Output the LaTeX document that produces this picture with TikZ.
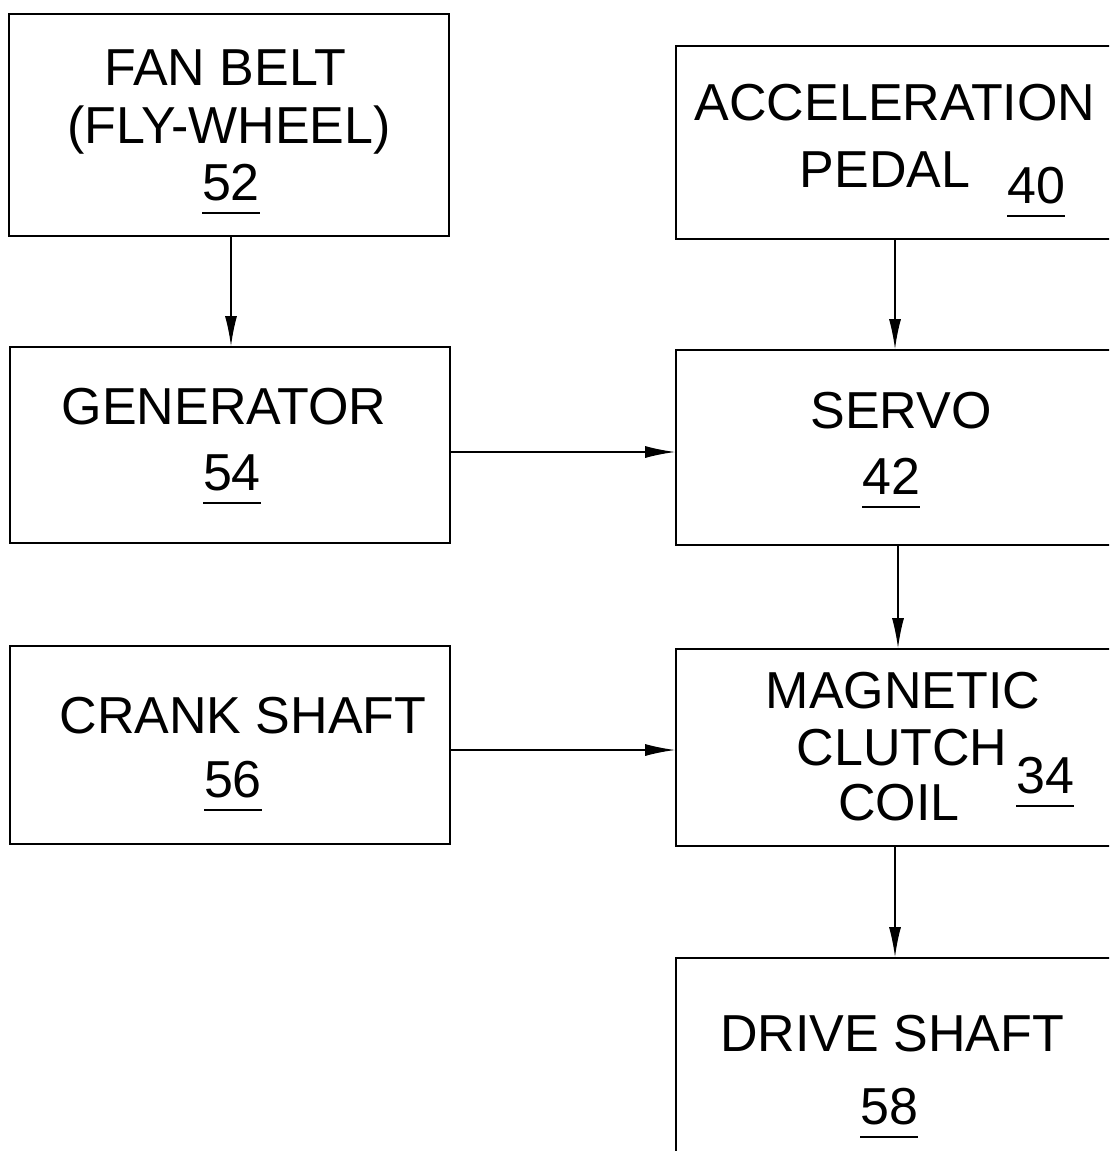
\documentclass[tikz,border=0pt]{standalone}
\usepackage{fontspec}
\setmainfont{Liberation Sans}
\usetikzlibrary{arrows.meta,positioning}

% reference number, underlined a little below the digits
\newcommand{\refnum}[1]{\setbox0\hbox{#1}\rlap{\rule[-14pt]{\wd0}{2pt}}\box0}

\begin{document}
\begin{tikzpicture}[x=1pt,y=-1pt,font=\fontsize{52}{56}\selectfont,
	blk/.style={draw,line width=1.6pt,minimum width=440pt,minimum height=#1,inner sep=0pt},
	lbl/.style={anchor=base,inner sep=0pt},
	flow/.style={-{Latex[length=30pt,width=12pt]},line width=1.6pt}]
			\clip (0,0) rectangle (1109,1151);
			% left column
			\node [blk=222pt] (fanbelt) at (229,125) {};
			\node [blk=196pt] (generator) at (230,445) {};
			\node [blk=198pt] (crank) at (230,745) {};
			% right column
			\node [blk=193pt] (accel) at (896,142.5) {};
			\node [blk=195pt] (servo) at (896,447.5) {};
			\node [blk=197pt] (clutch) at (896,747.5) {};
			\node [blk=195pt] (drive) at (896,1055.5) {};
			% texts
			\node [lbl] (fanbelt-a) at (225,85) {FAN BELT};
			\node [lbl] (fanbelt-b) at (229,143) {(FLY-WHEEL)};
			\node [lbl] (fanbelt-n) at (231,200) {\refnum{52}};
			\node [lbl] (accel-a) at (895,120) {ACCELERATION};
			\node [lbl] (accel-b) at (885,187) {PEDAL};
			\node [lbl] (accel-n) at (1036,203) {\refnum{40}};
			\node [lbl] (generator-a) at (224,424) {GENERATOR};
			\node [lbl] (generator-n) at (232,490) {\refnum{54}};
			\node [lbl] (servo-a) at (901,428) {SERVO};
			\node [lbl] (servo-n) at (891,494) {\refnum{42}};
			\node [lbl] (crank-a) at (243,733) {CRANK SHAFT};
			\node [lbl] (crank-n) at (233,797) {\refnum{56}};
			\node [lbl] (clutch-a) at (903,708) {MAGNETIC};
			\node [lbl] (clutch-b) at (902,765) {CLUTCH};
			\node [lbl] (clutch-c) at (899,820) {COIL};
			\node [lbl] (clutch-n) at (1045,793) {\refnum{34}};
			\node [lbl] (drive-a) at (892,1051) {DRIVE SHAFT};
			\node [lbl] (drive-n) at (889,1124) {\refnum{58}};
			% connectors
			\draw [flow] ([xshift=2pt]fanbelt.south) -- ([xshift=2pt]fanbelt.south |- generator.north);
			\draw [flow] ([xshift=-1pt]accel.south) -- ([xshift=-1pt]accel.south |- servo.north);
			\draw [flow] ([xshift=2pt]servo.south) -- ([xshift=2pt]servo.south |- clutch.north);
			\draw [flow] ([xshift=-1pt]clutch.south) -- ([xshift=-1pt]clutch.south |- drive.north);
			\draw [flow] ([yshift=-7pt]generator.east) -- ([yshift=-7pt]generator.east -| servo.west);
			\draw [flow] ([yshift=-5pt]crank.east) -- ([yshift=-5pt]crank.east -| clutch.west);
			\end{tikzpicture}
\end{document}
